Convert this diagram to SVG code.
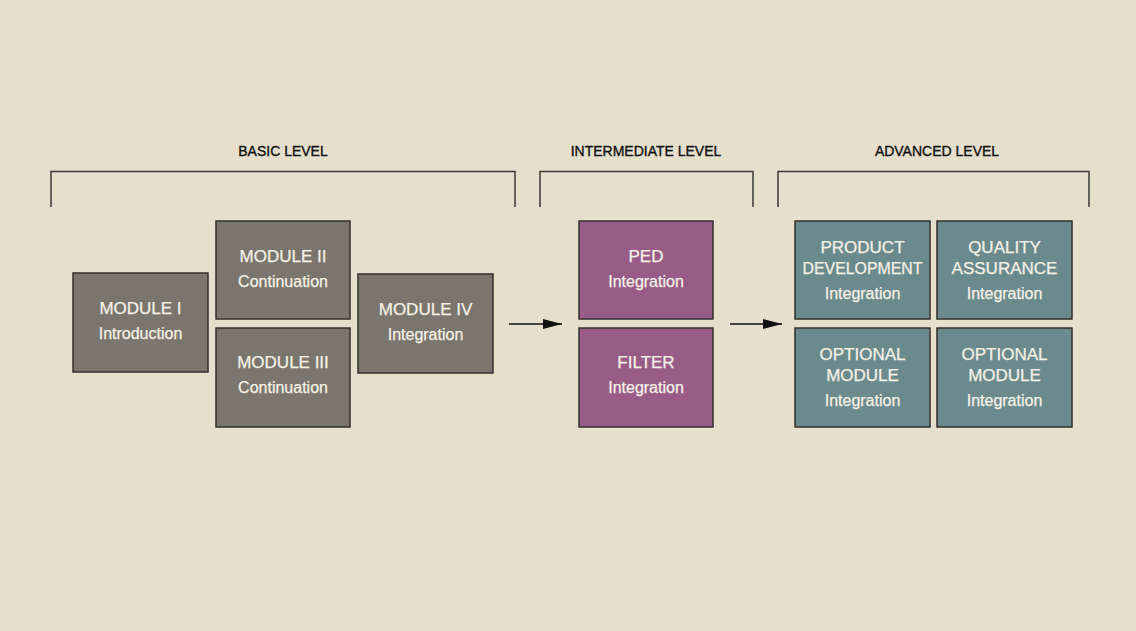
<svg xmlns="http://www.w3.org/2000/svg" width="1136" height="631" viewBox="0 0 1136 631">
<defs>
<marker id="ah" markerWidth="19" markerHeight="10" refX="19" refY="5" orient="auto" markerUnits="userSpaceOnUse">
<path d="M0,0 L19,5 L0,10 Z" fill="#111"/>
</marker>
<style>
.bg{fill:#e6dfcc}
.box{stroke:#33312d;stroke-width:1.5}
.g{fill:#7b766d}
.p{fill:#985c86}
.t{fill:#6b8a8e}
.txt{font-family:"Liberation Sans",Arial,sans-serif;fill:#f6f1e6;text-anchor:middle;stroke:#f6f1e6;stroke-width:0.25}
.h{font-size:17px}
.s{font-size:16px}
.lbl{font-family:"Liberation Sans",Arial,sans-serif;font-size:14px;fill:#111;text-anchor:middle;stroke:#111;stroke-width:0.35}
.br{fill:none;stroke:#3a3834;stroke-width:1.5}
.conn{stroke:#111;stroke-width:1.3;fill:none}
</style>
</defs>
<rect class="bg" width="1136" height="631"/>
<g id="brackets">
<text class="lbl" x="283" y="156">BASIC LEVEL</text>
<path class="br" d="M51,207 V171.5 H515 V207"/>
<text class="lbl" x="646" y="156">INTERMEDIATE LEVEL</text>
<path class="br" d="M540,207 V171.5 H753 V207"/>
<text class="lbl" x="937" y="156">ADVANCED LEVEL</text>
<path class="br" d="M778,207 V171.5 H1089 V207"/>
</g>
<g id="module1"><rect class="box g" x="73" y="273" width="135" height="99"/>
<text class="txt h" x="140.5" y="314">MODULE I</text><text class="txt s" x="140.5" y="339">Introduction</text></g>
<g id="module2"><rect class="box g" x="216" y="221" width="134" height="98"/>
<text class="txt h" x="283" y="262">MODULE II</text><text class="txt s" x="283" y="287">Continuation</text></g>
<g id="module3"><rect class="box g" x="216" y="328" width="134" height="99"/>
<text class="txt h" x="283" y="368">MODULE III</text><text class="txt s" x="283" y="393">Continuation</text></g>
<g id="module4"><rect class="box g" x="358" y="274" width="135" height="99"/>
<text class="txt h" x="425.5" y="315">MODULE IV</text><text class="txt s" x="425.5" y="340">Integration</text></g>
<g id="ped"><rect class="box p" x="579" y="221" width="134" height="98"/>
<text class="txt h" x="646" y="262">PED</text><text class="txt s" x="646" y="287">Integration</text></g>
<g id="filter"><rect class="box p" x="579" y="328" width="134" height="99"/>
<text class="txt h" x="646" y="368">FILTER</text><text class="txt s" x="646" y="393">Integration</text></g>
<g id="pd"><rect class="box t" x="795" y="221" width="135" height="98"/>
<text class="txt h" x="862.5" y="253">PRODUCT</text><text class="txt h" x="862.5" y="274" textLength="120" lengthAdjust="spacingAndGlyphs">DEVELOPMENT</text><text class="txt s" x="862.5" y="299">Integration</text></g>
<g id="qa"><rect class="box t" x="937" y="221" width="135" height="98"/>
<text class="txt h" x="1004.5" y="253">QUALITY</text><text class="txt h" x="1004.5" y="274">ASSURANCE</text><text class="txt s" x="1004.5" y="299">Integration</text></g>
<g id="opt1"><rect class="box t" x="795" y="328" width="135" height="99"/>
<text class="txt h" x="862.5" y="360">OPTIONAL</text><text class="txt h" x="862.5" y="381">MODULE</text><text class="txt s" x="862.5" y="406">Integration</text></g>
<g id="opt2"><rect class="box t" x="937" y="328" width="135" height="99"/>
<text class="txt h" x="1004.5" y="360">OPTIONAL</text><text class="txt h" x="1004.5" y="381">MODULE</text><text class="txt s" x="1004.5" y="406">Integration</text></g>
<g id="connectors">
<line class="conn" x1="509" y1="324" x2="562" y2="324" marker-end="url(#ah)"/>
<line class="conn" x1="730" y1="324" x2="782" y2="324" marker-end="url(#ah)"/>
</g>
</svg>
